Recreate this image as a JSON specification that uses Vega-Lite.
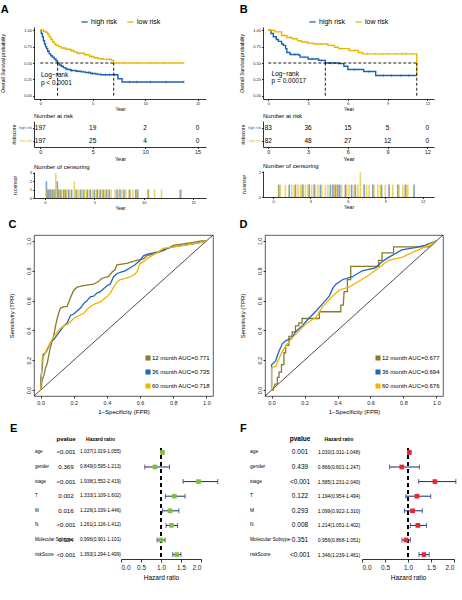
{
"$schema": "https://vega.github.io/schema/vega-lite/v6.json",
"padding": {"left": 0, "top": 4, "right": 2, "bottom": 2},
"config": {
  "font": "Liberation Sans",
  "view": {"stroke": null},
  "axis": {"grid": false, "labelFontSize": 4, "titleFontSize": 5, "titleFontWeight": "normal", "tickSize": 1.5, "labelPadding": 1, "titlePadding": 1, "domainColor": "black", "tickColor": "black", "labelColor": "#222", "titleColor": "black", "domainWidth": 0.8, "tickWidth": 0.8},
  "title": {"fontSize": 11, "fontWeight": "bold", "anchor": "start", "color": "black"},
  "legend": {"layout": {"top": {"anchor": "middle"}}}
},
"datasets": {
  "kmA": [
    {"t":0,"s":1,"group":"high risk"},{"t":0.1,"s":0.95,"group":"high risk"},{"t":0.2,"s":0.9,"group":"high risk"},{"t":0.3,"s":0.84,"group":"high risk"},{"t":0.4,"s":0.79,"group":"high risk"},{"t":0.5,"s":0.75,"group":"high risk"},{"t":0.6,"s":0.72,"group":"high risk"},{"t":0.7,"s":0.68,"group":"high risk"},{"t":0.85,"s":0.64,"group":"high risk"},{"t":1.0,"s":0.61,"group":"high risk"},{"t":1.15,"s":0.59,"group":"high risk"},{"t":1.33,"s":0.56,"group":"high risk"},{"t":1.5,"s":0.53,"group":"high risk"},{"t":1.65,"s":0.5,"group":"high risk"},{"t":1.8,"s":0.47,"group":"high risk"},{"t":2.0,"s":0.45,"group":"high risk"},{"t":2.2,"s":0.43,"group":"high risk"},{"t":2.4,"s":0.41,"group":"high risk"},{"t":2.6,"s":0.4,"group":"high risk"},{"t":2.9,"s":0.385,"group":"high risk"},{"t":3.4,"s":0.375,"group":"high risk"},{"t":3.9,"s":0.365,"group":"high risk"},{"t":4.3,"s":0.355,"group":"high risk"},{"t":4.8,"s":0.34,"group":"high risk"},{"t":5.3,"s":0.33,"group":"high risk"},{"t":5.75,"s":0.32,"group":"high risk"},{"t":7.4,"s":0.26,"group":"high risk"},{"t":7.8,"s":0.21,"group":"high risk"},{"t":13.7,"s":0.21,"group":"high risk"},
    {"t":0,"s":1,"group":"low risk"},{"t":0.3,"s":0.985,"group":"low risk"},{"t":0.5,"s":0.97,"group":"low risk"},{"t":0.7,"s":0.94,"group":"low risk"},{"t":0.85,"s":0.9,"group":"low risk"},{"t":1.0,"s":0.86,"group":"low risk"},{"t":1.17,"s":0.82,"group":"low risk"},{"t":1.35,"s":0.79,"group":"low risk"},{"t":1.5,"s":0.77,"group":"low risk"},{"t":1.75,"s":0.75,"group":"low risk"},{"t":2.0,"s":0.73,"group":"low risk"},{"t":2.4,"s":0.71,"group":"low risk"},{"t":2.9,"s":0.69,"group":"low risk"},{"t":3.2,"s":0.67,"group":"low risk"},{"t":3.5,"s":0.65,"group":"low risk"},{"t":4.2,"s":0.625,"group":"low risk"},{"t":4.7,"s":0.6,"group":"low risk"},{"t":5.1,"s":0.58,"group":"low risk"},{"t":5.5,"s":0.565,"group":"low risk"},{"t":6.0,"s":0.555,"group":"low risk"},{"t":6.8,"s":0.54,"group":"low risk"},{"t":7.0,"s":0.5,"group":"low risk"},{"t":13.7,"s":0.5,"group":"low risk"}
  ],
  "tkA": [
    {"t":2.5,"s":0.41,"group":"high risk"},{"t":3.0,"s":0.385,"group":"high risk"},{"t":3.6,"s":0.375,"group":"high risk"},{"t":4.1,"s":0.365,"group":"high risk"},{"t":4.6,"s":0.355,"group":"high risk"},{"t":5.0,"s":0.34,"group":"high risk"},{"t":5.5,"s":0.33,"group":"high risk"},{"t":6.2,"s":0.32,"group":"high risk"},{"t":6.6,"s":0.32,"group":"high risk"},{"t":7.1,"s":0.32,"group":"high risk"},{"t":8.5,"s":0.21,"group":"high risk"},{"t":9.2,"s":0.21,"group":"high risk"},{"t":10.5,"s":0.21,"group":"high risk"},{"t":12,"s":0.21,"group":"high risk"},{"t":13.7,"s":0.21,"group":"high risk"},
    {"t":1.6,"s":0.77,"group":"low risk"},{"t":2.2,"s":0.73,"group":"low risk"},{"t":2.6,"s":0.71,"group":"low risk"},{"t":3.0,"s":0.69,"group":"low risk"},{"t":3.7,"s":0.65,"group":"low risk"},{"t":4.4,"s":0.625,"group":"low risk"},{"t":4.9,"s":0.6,"group":"low risk"},{"t":5.3,"s":0.58,"group":"low risk"},{"t":5.8,"s":0.565,"group":"low risk"},{"t":6.3,"s":0.555,"group":"low risk"},{"t":6.6,"s":0.555,"group":"low risk"},{"t":7.5,"s":0.5,"group":"low risk"},{"t":8,"s":0.5,"group":"low risk"},{"t":8.6,"s":0.5,"group":"low risk"},{"t":9.3,"s":0.5,"group":"low risk"},{"t":10.5,"s":0.5,"group":"low risk"},{"t":11.1,"s":0.5,"group":"low risk"},{"t":11.8,"s":0.5,"group":"low risk"},{"t":13.7,"s":0.5,"group":"low risk"}
  ],
  "kmB": [
    {"t":0,"s":1,"group":"high risk"},{"t":0.2,"s":0.95,"group":"high risk"},{"t":0.38,"s":0.9,"group":"high risk"},{"t":0.6,"s":0.86,"group":"high risk"},{"t":0.76,"s":0.83,"group":"high risk"},{"t":1.0,"s":0.79,"group":"high risk"},{"t":1.14,"s":0.77,"group":"high risk"},{"t":1.3,"s":0.72,"group":"high risk"},{"t":1.4,"s":0.66,"group":"high risk"},{"t":1.64,"s":0.63,"group":"high risk"},{"t":2.3,"s":0.62,"group":"high risk"},{"t":2.4,"s":0.59,"group":"high risk"},{"t":3.0,"s":0.56,"group":"high risk"},{"t":3.8,"s":0.54,"group":"high risk"},{"t":4.3,"s":0.5,"group":"high risk"},{"t":5.3,"s":0.49,"group":"high risk"},{"t":5.7,"s":0.45,"group":"high risk"},{"t":6.0,"s":0.4,"group":"high risk"},{"t":7.2,"s":0.37,"group":"high risk"},{"t":8.1,"s":0.31,"group":"high risk"},{"t":11.2,"s":0.31,"group":"high risk"},
    {"t":0,"s":1,"group":"low risk"},{"t":0.5,"s":0.975,"group":"low risk"},{"t":1.0,"s":0.92,"group":"low risk"},{"t":1.4,"s":0.89,"group":"low risk"},{"t":1.8,"s":0.87,"group":"low risk"},{"t":2.2,"s":0.84,"group":"low risk"},{"t":2.5,"s":0.82,"group":"low risk"},{"t":3.0,"s":0.8,"group":"low risk"},{"t":3.5,"s":0.79,"group":"low risk"},{"t":4.5,"s":0.77,"group":"low risk"},{"t":5.0,"s":0.74,"group":"low risk"},{"t":5.3,"s":0.72,"group":"low risk"},{"t":6.1,"s":0.69,"group":"low risk"},{"t":6.8,"s":0.66,"group":"low risk"},{"t":7.1,"s":0.64,"group":"low risk"},{"t":11.2,"s":0.32,"group":"low risk"},{"t":11.25,"s":0.32,"group":"low risk"}
  ],
  "tkB": [
    {"t":2.0,"s":0.63,"group":"high risk"},{"t":2.7,"s":0.59,"group":"high risk"},{"t":3.3,"s":0.56,"group":"high risk"},{"t":4.0,"s":0.54,"group":"high risk"},{"t":4.8,"s":0.5,"group":"high risk"},{"t":6.5,"s":0.4,"group":"high risk"},{"t":7.6,"s":0.37,"group":"high risk"},{"t":8.7,"s":0.31,"group":"high risk"},{"t":9.3,"s":0.31,"group":"high risk"},{"t":10.0,"s":0.31,"group":"high risk"},{"t":10.6,"s":0.31,"group":"high risk"},
    {"t":1.2,"s":0.92,"group":"low risk"},{"t":1.6,"s":0.89,"group":"low risk"},{"t":2.0,"s":0.87,"group":"low risk"},{"t":2.8,"s":0.82,"group":"low risk"},{"t":3.3,"s":0.8,"group":"low risk"},{"t":4.0,"s":0.79,"group":"low risk"},{"t":4.8,"s":0.77,"group":"low risk"},{"t":5.5,"s":0.72,"group":"low risk"},{"t":6.5,"s":0.69,"group":"low risk"},{"t":7.5,"s":0.64,"group":"low risk"},{"t":8.1,"s":0.64,"group":"low risk"},{"t":8.6,"s":0.64,"group":"low risk"},{"t":9.0,"s":0.64,"group":"low risk"},{"t":9.6,"s":0.64,"group":"low risk"},{"t":10.1,"s":0.64,"group":"low risk"},{"t":10.4,"s":0.64,"group":"low risk"},{"t":10.8,"s":0.64,"group":"low risk"}
  ],
  "riskA": [
    {"t":0,"n":197,"group":"high risk"},{"t":5,"n":19,"group":"high risk"},{"t":10,"n":2,"group":"high risk"},{"t":15,"n":0,"group":"high risk"},
    {"t":0,"n":197,"group":"low risk"},{"t":5,"n":25,"group":"low risk"},{"t":10,"n":4,"group":"low risk"},{"t":15,"n":0,"group":"low risk"}
  ],
  "riskB": [
    {"t":0,"n":83,"group":"high risk"},{"t":3,"n":36,"group":"high risk"},{"t":6,"n":15,"group":"high risk"},{"t":9,"n":5,"group":"high risk"},{"t":12,"n":0,"group":"high risk"},
    {"t":0,"n":82,"group":"low risk"},{"t":3,"n":48,"group":"low risk"},{"t":6,"n":27,"group":"low risk"},{"t":9,"n":12,"group":"low risk"},{"t":12,"n":0,"group":"low risk"}
  ],
  "cenA": [
    {"t":0.15,"n":2,"group":"high risk"},{"t":0.3,"n":1,"group":"high risk"},{"t":0.45,"n":1,"group":"high risk"},{"t":0.6,"n":1,"group":"high risk"},{"t":0.8,"n":1,"group":"high risk"},{"t":1.0,"n":1,"group":"high risk"},{"t":1.26,"n":2,"group":"high risk"},{"t":1.4,"n":1,"group":"high risk"},{"t":1.6,"n":1,"group":"high risk"},{"t":1.9,"n":1,"group":"high risk"},{"t":2.1,"n":1,"group":"high risk"},{"t":2.4,"n":1,"group":"high risk"},{"t":2.7,"n":1,"group":"high risk"},{"t":3.2,"n":1,"group":"high risk"},{"t":3.6,"n":1,"group":"high risk"},{"t":3.9,"n":1,"group":"high risk"},{"t":4.3,"n":1,"group":"high risk"},{"t":4.6,"n":1,"group":"high risk"},{"t":5.0,"n":1,"group":"high risk"},{"t":5.3,"n":1,"group":"high risk"},{"t":5.6,"n":1,"group":"high risk"},{"t":5.9,"n":1,"group":"high risk"},{"t":6.2,"n":1,"group":"high risk"},{"t":6.5,"n":1,"group":"high risk"},{"t":7.3,"n":1,"group":"high risk"},{"t":7.6,"n":1,"group":"high risk"},{"t":8.0,"n":1,"group":"high risk"},{"t":8.6,"n":1,"group":"high risk"},{"t":9.2,"n":1,"group":"high risk"},{"t":9.4,"n":1,"group":"high risk"},{"t":10.45,"n":1,"group":"high risk"},{"t":13.7,"n":1,"group":"high risk"},
    {"t":0.2,"n":1,"group":"low risk"},{"t":0.5,"n":1,"group":"low risk"},{"t":0.7,"n":1,"group":"low risk"},{"t":0.9,"n":1,"group":"low risk"},{"t":1.1,"n":3,"group":"low risk"},{"t":1.3,"n":1,"group":"low risk"},{"t":1.5,"n":1,"group":"low risk"},{"t":1.7,"n":1,"group":"low risk"},{"t":2.0,"n":1,"group":"low risk"},{"t":2.2,"n":1,"group":"low risk"},{"t":2.5,"n":1,"group":"low risk"},{"t":2.97,"n":2,"group":"low risk"},{"t":3.1,"n":1,"group":"low risk"},{"t":3.4,"n":1,"group":"low risk"},{"t":3.7,"n":1,"group":"low risk"},{"t":4.0,"n":1,"group":"low risk"},{"t":4.2,"n":1,"group":"low risk"},{"t":4.5,"n":1,"group":"low risk"},{"t":4.8,"n":1,"group":"low risk"},{"t":5.2,"n":1,"group":"low risk"},{"t":5.5,"n":1,"group":"low risk"},{"t":5.8,"n":1,"group":"low risk"},{"t":6.0,"n":1,"group":"low risk"},{"t":6.3,"n":1,"group":"low risk"},{"t":6.7,"n":1,"group":"low risk"},{"t":7.1,"n":1,"group":"low risk"},{"t":7.5,"n":1,"group":"low risk"},{"t":7.8,"n":1,"group":"low risk"},{"t":8.2,"n":1,"group":"low risk"},{"t":8.5,"n":1,"group":"low risk"},{"t":8.9,"n":1,"group":"low risk"},{"t":9.3,"n":1,"group":"low risk"},{"t":10.5,"n":1,"group":"low risk"},{"t":11.1,"n":1,"group":"low risk"},{"t":11.8,"n":1,"group":"low risk"},{"t":13.8,"n":1,"group":"low risk"}
  ],
  "cenB": [
    {"t":0.45,"n":1,"group":"high risk"},{"t":1.3,"n":1,"group":"high risk"},{"t":1.8,"n":1,"group":"high risk"},{"t":2.4,"n":1,"group":"high risk"},{"t":2.9,"n":1,"group":"high risk"},{"t":3.3,"n":1,"group":"high risk"},{"t":3.8,"n":1,"group":"high risk"},{"t":4.6,"n":1,"group":"high risk"},{"t":4.8,"n":1,"group":"high risk"},{"t":5.0,"n":1,"group":"high risk"},{"t":5.2,"n":1,"group":"high risk"},{"t":5.35,"n":1,"group":"high risk"},{"t":5.8,"n":1,"group":"high risk"},{"t":6.3,"n":1,"group":"high risk"},{"t":6.6,"n":1,"group":"high risk"},{"t":7.3,"n":1,"group":"high risk"},{"t":8.0,"n":1,"group":"high risk"},{"t":8.7,"n":1,"group":"high risk"},{"t":9.3,"n":1,"group":"high risk"},{"t":10.0,"n":1,"group":"high risk"},{"t":10.6,"n":1,"group":"high risk"},{"t":11.3,"n":1,"group":"high risk"},
    {"t":0.5,"n":1,"group":"low risk"},{"t":0.6,"n":1,"group":"low risk"},{"t":1.0,"n":1,"group":"low risk"},{"t":1.5,"n":1,"group":"low risk"},{"t":1.7,"n":1,"group":"low risk"},{"t":2.0,"n":1,"group":"low risk"},{"t":2.2,"n":1,"group":"low risk"},{"t":2.3,"n":1,"group":"low risk"},{"t":2.6,"n":1,"group":"low risk"},{"t":2.8,"n":1,"group":"low risk"},{"t":3.1,"n":1,"group":"low risk"},{"t":3.4,"n":1,"group":"low risk"},{"t":3.6,"n":1,"group":"low risk"},{"t":3.9,"n":1,"group":"low risk"},{"t":4.2,"n":1,"group":"low risk"},{"t":4.4,"n":1,"group":"low risk"},{"t":4.9,"n":1,"group":"low risk"},{"t":5.1,"n":1,"group":"low risk"},{"t":5.5,"n":1,"group":"low risk"},{"t":5.9,"n":1,"group":"low risk"},{"t":6.1,"n":1,"group":"low risk"},{"t":6.5,"n":1,"group":"low risk"},{"t":6.8,"n":1,"group":"low risk"},{"t":7.0,"n":2,"group":"low risk"},{"t":7.5,"n":1,"group":"low risk"},{"t":7.7,"n":1,"group":"low risk"},{"t":8.1,"n":1,"group":"low risk"},{"t":8.4,"n":1,"group":"low risk"},{"t":8.6,"n":1,"group":"low risk"},{"t":9.0,"n":1,"group":"low risk"},{"t":9.6,"n":1,"group":"low risk"},{"t":10.1,"n":1,"group":"low risk"},{"t":10.4,"n":1,"group":"low risk"},{"t":10.7,"n":1,"group":"low risk"},{"t":10.8,"n":1,"group":"low risk"}
  ],
  "rocC": [
    {"fpr":0,"tpr":0,"curve":"12 month AUC=0.771"},{"fpr":0.005,"tpr":0.03,"curve":"12 month AUC=0.771"},{"fpr":0.01,"tpr":0.07,"curve":"12 month AUC=0.771"},{"fpr":0.02,"tpr":0.1,"curve":"12 month AUC=0.771"},{"fpr":0.03,"tpr":0.15,"curve":"12 month AUC=0.771"},{"fpr":0.04,"tpr":0.18,"curve":"12 month AUC=0.771"},{"fpr":0.05,"tpr":0.24,"curve":"12 month AUC=0.771"},{"fpr":0.06,"tpr":0.29,"curve":"12 month AUC=0.771"},{"fpr":0.07,"tpr":0.33,"curve":"12 month AUC=0.771"},{"fpr":0.08,"tpr":0.37,"curve":"12 month AUC=0.771"},{"fpr":0.09,"tpr":0.43,"curve":"12 month AUC=0.771"},{"fpr":0.1,"tpr":0.48,"curve":"12 month AUC=0.771"},{"fpr":0.11,"tpr":0.52,"curve":"12 month AUC=0.771"},{"fpr":0.12,"tpr":0.55,"curve":"12 month AUC=0.771"},{"fpr":0.14,"tpr":0.56,"curve":"12 month AUC=0.771"},{"fpr":0.16,"tpr":0.56,"curve":"12 month AUC=0.771"},{"fpr":0.18,"tpr":0.62,"curve":"12 month AUC=0.771"},{"fpr":0.2,"tpr":0.67,"curve":"12 month AUC=0.771"},{"fpr":0.22,"tpr":0.69,"curve":"12 month AUC=0.771"},{"fpr":0.26,"tpr":0.7,"curve":"12 month AUC=0.771"},{"fpr":0.32,"tpr":0.71,"curve":"12 month AUC=0.771"},{"fpr":0.35,"tpr":0.73,"curve":"12 month AUC=0.771"},{"fpr":0.37,"tpr":0.75,"curve":"12 month AUC=0.771"},{"fpr":0.41,"tpr":0.76,"curve":"12 month AUC=0.771"},{"fpr":0.43,"tpr":0.79,"curve":"12 month AUC=0.771"},{"fpr":0.45,"tpr":0.81,"curve":"12 month AUC=0.771"},{"fpr":0.46,"tpr":0.84,"curve":"12 month AUC=0.771"},{"fpr":0.52,"tpr":0.85,"curve":"12 month AUC=0.771"},{"fpr":0.55,"tpr":0.86,"curve":"12 month AUC=0.771"},{"fpr":0.58,"tpr":0.87,"curve":"12 month AUC=0.771"},{"fpr":0.62,"tpr":0.88,"curve":"12 month AUC=0.771"},{"fpr":0.64,"tpr":0.9,"curve":"12 month AUC=0.771"},{"fpr":0.7,"tpr":0.92,"curve":"12 month AUC=0.771"},{"fpr":0.75,"tpr":0.94,"curve":"12 month AUC=0.771"},{"fpr":0.8,"tpr":0.97,"curve":"12 month AUC=0.771"},{"fpr":0.86,"tpr":0.98,"curve":"12 month AUC=0.771"},{"fpr":0.92,"tpr":0.99,"curve":"12 month AUC=0.771"},{"fpr":0.97,"tpr":1,"curve":"12 month AUC=0.771"},{"fpr":1,"tpr":1,"curve":"12 month AUC=0.771"},
    {"fpr":0,"tpr":0,"curve":"36 month AUC=0.735"},{"fpr":0,"tpr":0.07,"curve":"36 month AUC=0.735"},{"fpr":0.01,"tpr":0.15,"curve":"36 month AUC=0.735"},{"fpr":0.015,"tpr":0.24,"curve":"36 month AUC=0.735"},{"fpr":0.03,"tpr":0.25,"curve":"36 month AUC=0.735"},{"fpr":0.04,"tpr":0.27,"curve":"36 month AUC=0.735"},{"fpr":0.06,"tpr":0.32,"curve":"36 month AUC=0.735"},{"fpr":0.08,"tpr":0.34,"curve":"36 month AUC=0.735"},{"fpr":0.1,"tpr":0.37,"curve":"36 month AUC=0.735"},{"fpr":0.12,"tpr":0.4,"curve":"36 month AUC=0.735"},{"fpr":0.14,"tpr":0.43,"curve":"36 month AUC=0.735"},{"fpr":0.16,"tpr":0.45,"curve":"36 month AUC=0.735"},{"fpr":0.18,"tpr":0.5,"curve":"36 month AUC=0.735"},{"fpr":0.2,"tpr":0.51,"curve":"36 month AUC=0.735"},{"fpr":0.22,"tpr":0.53,"curve":"36 month AUC=0.735"},{"fpr":0.24,"tpr":0.55,"curve":"36 month AUC=0.735"},{"fpr":0.26,"tpr":0.58,"curve":"36 month AUC=0.735"},{"fpr":0.28,"tpr":0.6,"curve":"36 month AUC=0.735"},{"fpr":0.3,"tpr":0.625,"curve":"36 month AUC=0.735"},{"fpr":0.32,"tpr":0.63,"curve":"36 month AUC=0.735"},{"fpr":0.34,"tpr":0.65,"curve":"36 month AUC=0.735"},{"fpr":0.36,"tpr":0.66,"curve":"36 month AUC=0.735"},{"fpr":0.38,"tpr":0.68,"curve":"36 month AUC=0.735"},{"fpr":0.4,"tpr":0.7,"curve":"36 month AUC=0.735"},{"fpr":0.42,"tpr":0.71,"curve":"36 month AUC=0.735"},{"fpr":0.44,"tpr":0.76,"curve":"36 month AUC=0.735"},{"fpr":0.46,"tpr":0.78,"curve":"36 month AUC=0.735"},{"fpr":0.48,"tpr":0.79,"curve":"36 month AUC=0.735"},{"fpr":0.51,"tpr":0.8,"curve":"36 month AUC=0.735"},{"fpr":0.54,"tpr":0.82,"curve":"36 month AUC=0.735"},{"fpr":0.57,"tpr":0.84,"curve":"36 month AUC=0.735"},{"fpr":0.6,"tpr":0.87,"curve":"36 month AUC=0.735"},{"fpr":0.62,"tpr":0.9,"curve":"36 month AUC=0.735"},{"fpr":0.64,"tpr":0.91,"curve":"36 month AUC=0.735"},{"fpr":0.68,"tpr":0.92,"curve":"36 month AUC=0.735"},{"fpr":0.72,"tpr":0.93,"curve":"36 month AUC=0.735"},{"fpr":0.76,"tpr":0.95,"curve":"36 month AUC=0.735"},{"fpr":0.8,"tpr":0.96,"curve":"36 month AUC=0.735"},{"fpr":0.86,"tpr":0.97,"curve":"36 month AUC=0.735"},{"fpr":0.92,"tpr":0.98,"curve":"36 month AUC=0.735"},{"fpr":0.97,"tpr":0.99,"curve":"36 month AUC=0.735"},{"fpr":1,"tpr":1,"curve":"36 month AUC=0.735"},
    {"fpr":0,"tpr":0,"curve":"60 month AUC=0.718"},{"fpr":0.005,"tpr":0.1,"curve":"60 month AUC=0.718"},{"fpr":0.01,"tpr":0.22,"curve":"60 month AUC=0.718"},{"fpr":0.02,"tpr":0.23,"curve":"60 month AUC=0.718"},{"fpr":0.04,"tpr":0.28,"curve":"60 month AUC=0.718"},{"fpr":0.06,"tpr":0.32,"curve":"60 month AUC=0.718"},{"fpr":0.08,"tpr":0.36,"curve":"60 month AUC=0.718"},{"fpr":0.1,"tpr":0.39,"curve":"60 month AUC=0.718"},{"fpr":0.12,"tpr":0.415,"curve":"60 month AUC=0.718"},{"fpr":0.14,"tpr":0.43,"curve":"60 month AUC=0.718"},{"fpr":0.16,"tpr":0.44,"curve":"60 month AUC=0.718"},{"fpr":0.18,"tpr":0.46,"curve":"60 month AUC=0.718"},{"fpr":0.2,"tpr":0.48,"curve":"60 month AUC=0.718"},{"fpr":0.23,"tpr":0.5,"curve":"60 month AUC=0.718"},{"fpr":0.26,"tpr":0.515,"curve":"60 month AUC=0.718"},{"fpr":0.28,"tpr":0.54,"curve":"60 month AUC=0.718"},{"fpr":0.3,"tpr":0.56,"curve":"60 month AUC=0.718"},{"fpr":0.33,"tpr":0.58,"curve":"60 month AUC=0.718"},{"fpr":0.36,"tpr":0.59,"curve":"60 month AUC=0.718"},{"fpr":0.38,"tpr":0.61,"curve":"60 month AUC=0.718"},{"fpr":0.4,"tpr":0.625,"curve":"60 month AUC=0.718"},{"fpr":0.42,"tpr":0.65,"curve":"60 month AUC=0.718"},{"fpr":0.44,"tpr":0.69,"curve":"60 month AUC=0.718"},{"fpr":0.46,"tpr":0.725,"curve":"60 month AUC=0.718"},{"fpr":0.48,"tpr":0.74,"curve":"60 month AUC=0.718"},{"fpr":0.5,"tpr":0.745,"curve":"60 month AUC=0.718"},{"fpr":0.53,"tpr":0.755,"curve":"60 month AUC=0.718"},{"fpr":0.56,"tpr":0.77,"curve":"60 month AUC=0.718"},{"fpr":0.58,"tpr":0.79,"curve":"60 month AUC=0.718"},{"fpr":0.6,"tpr":0.85,"curve":"60 month AUC=0.718"},{"fpr":0.62,"tpr":0.86,"curve":"60 month AUC=0.718"},{"fpr":0.64,"tpr":0.88,"curve":"60 month AUC=0.718"},{"fpr":0.67,"tpr":0.9,"curve":"60 month AUC=0.718"},{"fpr":0.7,"tpr":0.92,"curve":"60 month AUC=0.718"},{"fpr":0.74,"tpr":0.95,"curve":"60 month AUC=0.718"},{"fpr":0.8,"tpr":0.96,"curve":"60 month AUC=0.718"},{"fpr":0.86,"tpr":0.97,"curve":"60 month AUC=0.718"},{"fpr":0.92,"tpr":0.98,"curve":"60 month AUC=0.718"},{"fpr":0.97,"tpr":0.99,"curve":"60 month AUC=0.718"},{"fpr":1,"tpr":1,"curve":"60 month AUC=0.718"}
  ],
  "rocD": [
    {"fpr":0,"tpr":0,"curve":"12 month AUC=0.677"},{"fpr":0.01,"tpr":0,"curve":"12 month AUC=0.677"},{"fpr":0.02,"tpr":0.04,"curve":"12 month AUC=0.677"},{"fpr":0.035,"tpr":0.04,"curve":"12 month AUC=0.677"},{"fpr":0.035,"tpr":0.085,"curve":"12 month AUC=0.677"},{"fpr":0.045,"tpr":0.085,"curve":"12 month AUC=0.677"},{"fpr":0.045,"tpr":0.12,"curve":"12 month AUC=0.677"},{"fpr":0.06,"tpr":0.12,"curve":"12 month AUC=0.677"},{"fpr":0.06,"tpr":0.17,"curve":"12 month AUC=0.677"},{"fpr":0.075,"tpr":0.17,"curve":"12 month AUC=0.677"},{"fpr":0.075,"tpr":0.25,"curve":"12 month AUC=0.677"},{"fpr":0.085,"tpr":0.25,"curve":"12 month AUC=0.677"},{"fpr":0.085,"tpr":0.3,"curve":"12 month AUC=0.677"},{"fpr":0.105,"tpr":0.3,"curve":"12 month AUC=0.677"},{"fpr":0.105,"tpr":0.36,"curve":"12 month AUC=0.677"},{"fpr":0.125,"tpr":0.36,"curve":"12 month AUC=0.677"},{"fpr":0.125,"tpr":0.39,"curve":"12 month AUC=0.677"},{"fpr":0.145,"tpr":0.39,"curve":"12 month AUC=0.677"},{"fpr":0.145,"tpr":0.43,"curve":"12 month AUC=0.677"},{"fpr":0.165,"tpr":0.43,"curve":"12 month AUC=0.677"},{"fpr":0.165,"tpr":0.45,"curve":"12 month AUC=0.677"},{"fpr":0.185,"tpr":0.45,"curve":"12 month AUC=0.677"},{"fpr":0.185,"tpr":0.48,"curve":"12 month AUC=0.677"},{"fpr":0.29,"tpr":0.48,"curve":"12 month AUC=0.677"},{"fpr":0.29,"tpr":0.525,"curve":"12 month AUC=0.677"},{"fpr":0.42,"tpr":0.525,"curve":"12 month AUC=0.677"},{"fpr":0.42,"tpr":0.57,"curve":"12 month AUC=0.677"},{"fpr":0.435,"tpr":0.57,"curve":"12 month AUC=0.677"},{"fpr":0.44,"tpr":0.66,"curve":"12 month AUC=0.677"},{"fpr":0.46,"tpr":0.66,"curve":"12 month AUC=0.677"},{"fpr":0.46,"tpr":0.74,"curve":"12 month AUC=0.677"},{"fpr":0.48,"tpr":0.74,"curve":"12 month AUC=0.677"},{"fpr":0.48,"tpr":0.83,"curve":"12 month AUC=0.677"},{"fpr":0.65,"tpr":0.83,"curve":"12 month AUC=0.677"},{"fpr":0.65,"tpr":0.87,"curve":"12 month AUC=0.677"},{"fpr":0.67,"tpr":0.87,"curve":"12 month AUC=0.677"},{"fpr":0.67,"tpr":0.92,"curve":"12 month AUC=0.677"},{"fpr":0.74,"tpr":0.92,"curve":"12 month AUC=0.677"},{"fpr":0.74,"tpr":0.96,"curve":"12 month AUC=0.677"},{"fpr":0.96,"tpr":0.96,"curve":"12 month AUC=0.677"},{"fpr":1,"tpr":1,"curve":"12 month AUC=0.677"},
    {"fpr":0,"tpr":0,"curve":"36 month AUC=0.694"},{"fpr":0,"tpr":0.17,"curve":"36 month AUC=0.694"},{"fpr":0.025,"tpr":0.195,"curve":"36 month AUC=0.694"},{"fpr":0.035,"tpr":0.23,"curve":"36 month AUC=0.694"},{"fpr":0.045,"tpr":0.26,"curve":"36 month AUC=0.694"},{"fpr":0.065,"tpr":0.31,"curve":"36 month AUC=0.694"},{"fpr":0.085,"tpr":0.33,"curve":"36 month AUC=0.694"},{"fpr":0.125,"tpr":0.35,"curve":"36 month AUC=0.694"},{"fpr":0.145,"tpr":0.39,"curve":"36 month AUC=0.694"},{"fpr":0.185,"tpr":0.43,"curve":"36 month AUC=0.694"},{"fpr":0.225,"tpr":0.48,"curve":"36 month AUC=0.694"},{"fpr":0.27,"tpr":0.53,"curve":"36 month AUC=0.694"},{"fpr":0.31,"tpr":0.58,"curve":"36 month AUC=0.694"},{"fpr":0.35,"tpr":0.63,"curve":"36 month AUC=0.694"},{"fpr":0.37,"tpr":0.68,"curve":"36 month AUC=0.694"},{"fpr":0.39,"tpr":0.71,"curve":"36 month AUC=0.694"},{"fpr":0.43,"tpr":0.74,"curve":"36 month AUC=0.694"},{"fpr":0.49,"tpr":0.76,"curve":"36 month AUC=0.694"},{"fpr":0.55,"tpr":0.8,"curve":"36 month AUC=0.694"},{"fpr":0.63,"tpr":0.82,"curve":"36 month AUC=0.694"},{"fpr":0.67,"tpr":0.86,"curve":"36 month AUC=0.694"},{"fpr":0.71,"tpr":0.89,"curve":"36 month AUC=0.694"},{"fpr":0.79,"tpr":0.94,"curve":"36 month AUC=0.694"},{"fpr":0.87,"tpr":0.955,"curve":"36 month AUC=0.694"},{"fpr":0.93,"tpr":0.97,"curve":"36 month AUC=0.694"},{"fpr":1,"tpr":1,"curve":"36 month AUC=0.694"},
    {"fpr":0,"tpr":0,"curve":"60 month AUC=0.676"},{"fpr":0,"tpr":0.15,"curve":"60 month AUC=0.676"},{"fpr":0.025,"tpr":0.16,"curve":"60 month AUC=0.676"},{"fpr":0.045,"tpr":0.21,"curve":"60 month AUC=0.676"},{"fpr":0.065,"tpr":0.26,"curve":"60 month AUC=0.676"},{"fpr":0.085,"tpr":0.295,"curve":"60 month AUC=0.676"},{"fpr":0.125,"tpr":0.35,"curve":"60 month AUC=0.676"},{"fpr":0.165,"tpr":0.395,"curve":"60 month AUC=0.676"},{"fpr":0.205,"tpr":0.44,"curve":"60 month AUC=0.676"},{"fpr":0.27,"tpr":0.49,"curve":"60 month AUC=0.676"},{"fpr":0.31,"tpr":0.56,"curve":"60 month AUC=0.676"},{"fpr":0.37,"tpr":0.63,"curve":"60 month AUC=0.676"},{"fpr":0.41,"tpr":0.67,"curve":"60 month AUC=0.676"},{"fpr":0.47,"tpr":0.69,"curve":"60 month AUC=0.676"},{"fpr":0.53,"tpr":0.73,"curve":"60 month AUC=0.676"},{"fpr":0.59,"tpr":0.77,"curve":"60 month AUC=0.676"},{"fpr":0.65,"tpr":0.82,"curve":"60 month AUC=0.676"},{"fpr":0.71,"tpr":0.87,"curve":"60 month AUC=0.676"},{"fpr":0.79,"tpr":0.89,"curve":"60 month AUC=0.676"},{"fpr":0.87,"tpr":0.93,"curve":"60 month AUC=0.676"},{"fpr":0.93,"tpr":0.96,"curve":"60 month AUC=0.676"},{"fpr":1,"tpr":1,"curve":"60 month AUC=0.676"}
  ],
  "diag": [{"fpr":-0.04,"tpr":-0.04},{"fpr":1.04,"tpr":1.04}],
  "forE": [
    {"var":"age","p":"<0.001","hr":1.037,"lo":1.019,"hi":1.055,"label":"1.037(1.019-1.055)"},
    {"var":"gender","p":"0.369","hr":0.849,"lo":0.595,"hi":1.213,"label":"0.849(0.595-1.213)"},
    {"var":"stage","p":"<0.001","hr":1.938,"lo":1.552,"hi":2.419,"label":"1.938(1.552-2.419)"},
    {"var":"T","p":"0.002","hr":1.333,"lo":1.109,"hi":1.602,"label":"1.333(1.109-1.602)"},
    {"var":"M","p":"0.016","hr":1.226,"lo":1.039,"hi":1.446,"label":"1.226(1.039-1.446)"},
    {"var":"N","p":"<0.001","hr":1.261,"lo":1.126,"hi":1.412,"label":"1.261(1.126-1.412)"},
    {"var":"Molecular Subtype","p":"0.934","hr":0.996,"lo":0.901,"hi":1.101,"label":"0.996(0.901-1.101)"},
    {"var":"riskScore","p":"<0.001","hr":1.393,"lo":1.294,"hi":1.499,"label":"1.393(1.294-1.499)"}
  ],
  "forF": [
    {"var":"age","p":"0.001","hr":1.03,"lo":1.011,"hi":1.048,"label":"1.030(1.011-1.048)"},
    {"var":"gender","p":"0.439","hr":0.866,"lo":0.601,"hi":1.247,"label":"0.866(0.601-1.247)"},
    {"var":"stage","p":"<0.001","hr":1.585,"lo":1.231,"hi":2.04,"label":"1.585(1.231-2.040)"},
    {"var":"T","p":"0.122","hr":1.194,"lo":0.954,"hi":1.494,"label":"1.194(0.954-1.494)"},
    {"var":"M","p":"0.293","hr":1.099,"lo":0.922,"hi":1.31,"label":"1.099(0.922-1.310)"},
    {"var":"N","p":"0.008","hr":1.214,"lo":1.051,"hi":1.402,"label":"1.214(1.051-1.402)"},
    {"var":"Molecular Subtype","p":"0.351","hr":0.956,"lo":0.868,"hi":1.051,"label":"0.956(0.868-1.051)"},
    {"var":"riskScore","p":"<0.001","hr":1.346,"lo":1.239,"hi":1.461,"label":"1.346(1.239-1.461)"}
  ]
},
"resolve": {"scale": {"x": "independent", "y": "independent", "color": "independent"}, "legend": {"color": "independent"}},
"spacing": 7,
"vconcat": [
 {
  "spacing": 33,
  "resolve": {"scale": {"x": "independent", "y": "independent", "color": "independent"}, "legend": {"color": "independent"}},
  "hconcat": [
   {
    "spacing": 1,
    "resolve": {"scale": {"x": "independent", "y": "independent", "color": "independent"}, "legend": {"color": "independent"}},
    "vconcat": [
     {
      "title": {"text": "A", "frame": "bounds", "offset": 2},
      "width": 172, "height": 72,
      "layer": [
       {"data": {"name": "kmA"}, "mark": {"type": "line", "interpolate": "step-after", "strokeWidth": 1.4},
        "encoding": {
         "x": {"field": "t", "type": "quantitative", "scale": {"domain": [-0.6, 15.8], "nice": false, "zero": false}, "axis": {"values": [0,5,10,15], "tickCount": 20, "format": "d", "title": "Year", "labelOverlap": false}},
         "y": {"field": "s", "type": "quantitative", "scale": {"domain": [-0.05, 1.05], "nice": false}, "axis": {"values": [0,0.25,0.5,0.75,1], "tickCount": 20, "format": ".2f", "title": "Overall Survival probability", "titlePadding": 18, "labelOverlap": false}},
         "color": {"field": "group", "type": "nominal", "scale": {"domain": ["high risk","low risk"], "range": ["#1f60b0","#e7b800"]}, "legend": {"orient": "top", "title": null, "labelFontSize": 7, "symbolType": "stroke", "symbolStrokeWidth": 1.8, "symbolSize": 40, "offset": 1, "padding": 0, "columnPadding": 5, "labelOffset": 2}}
        }},
       {"data": {"name": "tkA"}, "mark": {"type": "tick", "orient": "vertical", "size": 3, "thickness": 0.7},
        "encoding": {"x": {"field": "t", "type": "quantitative"}, "y": {"field": "s", "type": "quantitative"}, "color": {"field": "group", "type": "nominal"}}},
       {"data": {"values": [{"t": 1.65}, {"t": 7.0}]}, "mark": {"type": "rule", "strokeDash": [3,2], "strokeWidth": 0.9, "color": "black"},
        "encoding": {"x": {"field": "t", "type": "quantitative"}, "y": {"datum": 0}, "y2": {"datum": 0.5}}},
       {"data": {"values": [{"t0": 0, "t1": 7.0, "s": 0.5}]}, "mark": {"type": "rule", "strokeDash": [3,2], "strokeWidth": 0.9, "color": "black"},
        "encoding": {"x": {"field": "t0", "type": "quantitative"}, "x2": {"field": "t1"}, "y": {"field": "s", "type": "quantitative"}}},
       {"data": {"values": [{"t": 0.06, "s": 0.31, "txt": "Log\u2212rank"}, {"t": 0.06, "s": 0.2, "txt": "p < 0.0001"}]}, "mark": {"type": "text", "align": "left", "fontSize": 6.5},
        "encoding": {"x": {"field": "t", "type": "quantitative"}, "y": {"field": "s", "type": "quantitative"}, "text": {"field": "txt"}}}
      ]
     },
     {
      "title": {"text": "Number at risk", "fontSize": 6, "fontWeight": "normal", "frame": "group", "offset": 2},
      "width": 172, "height": 26,
      "data": {"name": "riskA"},
      "mark": {"type": "text", "fontSize": 6.5},
      "encoding": {
       "x": {"field": "t", "type": "quantitative", "scale": {"domain": [-0.6, 15.8], "nice": false, "zero": false}, "axis": {"values": [0,5,10,15], "tickCount": 20, "format": "d", "title": "Year", "labelFontSize": 5.5, "titleFontSize": 5.5, "labelOverlap": false}},
       "y": {"field": "group", "type": "nominal", "sort": ["high risk","low risk"], "scale": {"type": "point", "padding": 0.5}, "axis": {"title": "riskscore", "labelFontSize": 3.5, "titlePadding": 2, "labelOverlap": false, "labelColor": {"condition": {"test": "datum.value == 'high risk'", "value": "#1f60b0"}, "value": "#e7b800"}}},
       "text": {"field": "n", "type": "quantitative"}
      }
     },
     {
      "title": {"text": "Number of censoring", "fontSize": 6, "fontWeight": "normal", "frame": "group", "offset": 1},
      "width": 172, "height": 26,
      "data": {"name": "cenA"},
      "mark": {"type": "bar", "size": 1.6, "opacity": 0.6},
      "encoding": {
       "x": {"field": "t", "type": "quantitative", "scale": {"domain": [-0.6, 15.8], "nice": false, "zero": false}, "axis": {"values": [0,5,10,15], "tickCount": 20, "format": "d", "title": "Year", "labelOverlap": false}},
       "y": {"field": "n", "type": "quantitative", "stack": null, "scale": {"domain": [0, 3.1], "nice": false}, "axis": {"values": [0,1,2,3], "tickCount": 20, "format": "d", "title": "n.censor", "titlePadding": 12, "labelOverlap": false}},
       "color": {"field": "group", "type": "nominal", "scale": {"domain": ["high risk","low risk"], "range": ["#1f60b0","#e7b800"]}, "legend": null}
      }
     }
    ]
   },
   {
    "spacing": 1,
    "resolve": {"scale": {"x": "independent", "y": "independent", "color": "independent"}, "legend": {"color": "independent"}},
    "vconcat": [
     {
      "title": {"text": "B", "frame": "bounds", "offset": 2},
      "width": 171, "height": 72,
      "layer": [
       {"data": {"name": "kmB"}, "mark": {"type": "line", "interpolate": "step-after", "strokeWidth": 1.4},
        "encoding": {
         "x": {"field": "t", "type": "quantitative", "scale": {"domain": [-0.4, 12.5], "nice": false, "zero": false}, "axis": {"values": [0,3,6,9,12], "tickCount": 20, "format": "d", "title": "Year", "labelOverlap": false}},
         "y": {"field": "s", "type": "quantitative", "scale": {"domain": [-0.05, 1.05], "nice": false}, "axis": {"values": [0,0.25,0.5,0.75,1], "tickCount": 20, "format": ".2f", "title": "Overall Survival probability", "titlePadding": 8, "labelOverlap": false}},
         "color": {"field": "group", "type": "nominal", "scale": {"domain": ["high risk","low risk"], "range": ["#1f60b0","#e7b800"]}, "legend": {"orient": "top", "title": null, "labelFontSize": 7, "symbolType": "stroke", "symbolStrokeWidth": 1.8, "symbolSize": 40, "offset": 1, "padding": 0, "columnPadding": 5, "labelOffset": 2}}
        }},
       {"data": {"name": "tkB"}, "mark": {"type": "tick", "orient": "vertical", "size": 3, "thickness": 0.7},
        "encoding": {"x": {"field": "t", "type": "quantitative"}, "y": {"field": "s", "type": "quantitative"}, "color": {"field": "group", "type": "nominal"}}},
       {"data": {"values": [{"t": 4.3}, {"t": 11.2}]}, "mark": {"type": "rule", "strokeDash": [3,2], "strokeWidth": 0.9, "color": "black"},
        "encoding": {"x": {"field": "t", "type": "quantitative"}, "y": {"datum": 0}, "y2": {"datum": 0.5}}},
       {"data": {"values": [{"t0": 0, "t1": 11.2, "s": 0.5}]}, "mark": {"type": "rule", "strokeDash": [3,2], "strokeWidth": 0.9, "color": "black"},
        "encoding": {"x": {"field": "t0", "type": "quantitative"}, "x2": {"field": "t1"}, "y": {"field": "s", "type": "quantitative"}}},
       {"data": {"values": [{"t": 0.25, "s": 0.33, "txt": "Log\u2212rank"}, {"t": 0.25, "s": 0.22, "txt": "p = 0.00017"}]}, "mark": {"type": "text", "align": "left", "fontSize": 6.5},
        "encoding": {"x": {"field": "t", "type": "quantitative"}, "y": {"field": "s", "type": "quantitative"}, "text": {"field": "txt"}}}
      ]
     },
     {
      "title": {"text": "Number at risk", "fontSize": 6, "fontWeight": "normal", "frame": "group", "offset": 2},
      "width": 171, "height": 26,
      "data": {"name": "riskB"},
      "mark": {"type": "text", "fontSize": 6.5},
      "encoding": {
       "x": {"field": "t", "type": "quantitative", "scale": {"domain": [-0.4, 12.5], "nice": false, "zero": false}, "axis": {"values": [0,3,6,9,12], "tickCount": 20, "format": "d", "title": "Year", "labelFontSize": 5.5, "titleFontSize": 5.5, "labelOverlap": false}},
       "y": {"field": "group", "type": "nominal", "sort": ["high risk","low risk"], "scale": {"type": "point", "padding": 0.5}, "axis": {"title": "riskscore", "labelFontSize": 3.5, "titlePadding": 2, "labelOverlap": false, "labelColor": {"condition": {"test": "datum.value == 'high risk'", "value": "#1f60b0"}, "value": "#e7b800"}}},
       "text": {"field": "n", "type": "quantitative"}
      }
     },
     {
      "title": {"text": "Number of censoring", "fontSize": 6, "fontWeight": "normal", "frame": "group", "offset": 1},
      "width": 171, "height": 26,
      "data": {"name": "cenB"},
      "mark": {"type": "bar", "size": 1.6, "opacity": 0.6},
      "encoding": {
       "x": {"field": "t", "type": "quantitative", "scale": {"domain": [-0.4, 12.5], "nice": false, "zero": false}, "axis": {"values": [0,3,6,9,12], "tickCount": 20, "format": "d", "title": "Year", "labelOverlap": false}},
       "y": {"field": "n", "type": "quantitative", "stack": null, "scale": {"domain": [0, 2.1], "nice": false}, "axis": {"values": [0,1,2], "tickCount": 20, "format": "d", "title": "n.censor", "titlePadding": 12, "labelOverlap": false}},
       "color": {"field": "group", "type": "nominal", "scale": {"domain": ["high risk","low risk"], "range": ["#1f60b0","#e7b800"]}, "legend": null}
      }
     }
    ]
   }
  ]
 },
 {
  "spacing": 24,
  "resolve": {"scale": {"x": "independent", "y": "independent", "color": "independent"}, "legend": {"color": "independent"}},
  "hconcat": [
   {
    "title": {"text": "C", "frame": "bounds", "offset": 4},
    "width": 179, "height": 161,
    "view": {"stroke": "#333", "strokeWidth": 0.8},
    "layer": [
     {"data": {"name": "diag"}, "mark": {"type": "line", "color": "black", "strokeWidth": 0.7},
      "encoding": {"x": {"field": "fpr", "type": "quantitative"}, "y": {"field": "tpr", "type": "quantitative"}}},
     {"data": {"name": "rocC"}, "mark": {"type": "line", "strokeWidth": 1.3},
      "encoding": {
       "x": {"field": "fpr", "type": "quantitative", "scale": {"domain": [-0.04, 1.04], "nice": false, "zero": false}, "axis": {"values": [0,0.2,0.4,0.6,0.8,1], "tickCount": 20, "format": ".1f", "title": "1\u2212Specificity (FPR)", "domain": false, "tickSize": 2, "labelFontSize": 5.5, "titleFontSize": 6, "labelPadding": 2, "titlePadding": 3, "labelOverlap": false}},
       "y": {"field": "tpr", "type": "quantitative", "scale": {"domain": [-0.04, 1.04], "nice": false, "zero": false}, "axis": {"values": [0,0.2,0.4,0.6,0.8,1], "tickCount": 20, "format": ".1f", "title": "Sensitivity (TPR)", "domain": false, "tickSize": 2, "labelFontSize": 5.5, "titleFontSize": 6, "labelAngle": 270, "labelPadding": 0.5, "titlePadding": 12, "labelOverlap": false}},
       "color": {"field": "curve", "type": "nominal", "scale": {"domain": ["12 month AUC=0.771","36 month AUC=0.735","60 month AUC=0.718"], "range": ["#8c7a26","#1f66c1","#f2b500"]}, "legend": {"orient": "bottom-right", "title": null, "symbolType": "square", "labelFontSize": 6, "symbolSize": 6, "symbolStrokeWidth": 2.6, "rowPadding": 0, "offset": 3, "labelOffset": 1}}
      }}
    ]
   },
   {
    "title": {"text": "D", "frame": "bounds", "offset": 4},
    "width": 178, "height": 161,
    "view": {"stroke": "#333", "strokeWidth": 0.8},
    "layer": [
     {"data": {"name": "diag"}, "mark": {"type": "line", "color": "black", "strokeWidth": 0.7},
      "encoding": {"x": {"field": "fpr", "type": "quantitative"}, "y": {"field": "tpr", "type": "quantitative"}}},
     {"data": {"name": "rocD"}, "mark": {"type": "line", "strokeWidth": 1.3},
      "encoding": {
       "x": {"field": "fpr", "type": "quantitative", "scale": {"domain": [-0.04, 1.04], "nice": false, "zero": false}, "axis": {"values": [0,0.2,0.4,0.6,0.8,1], "tickCount": 20, "format": ".1f", "title": "1\u2212Specificity (FPR)", "domain": false, "tickSize": 2, "labelFontSize": 5.5, "titleFontSize": 6, "labelPadding": 2, "titlePadding": 3, "labelOverlap": false}},
       "y": {"field": "tpr", "type": "quantitative", "scale": {"domain": [-0.04, 1.04], "nice": false, "zero": false}, "axis": {"values": [0,0.2,0.4,0.6,0.8,1], "tickCount": 20, "format": ".1f", "title": "Sensitivity (TPR)", "domain": false, "tickSize": 2, "labelFontSize": 5.5, "titleFontSize": 6, "labelAngle": 270, "labelPadding": 0.5, "titlePadding": 12, "labelOverlap": false}},
       "color": {"field": "curve", "type": "nominal", "scale": {"domain": ["12 month AUC=0.677","36 month AUC=0.694","60 month AUC=0.676"], "range": ["#8c7a26","#1f66c1","#f2b500"]}, "legend": {"orient": "bottom-right", "title": null, "symbolType": "square", "labelFontSize": 6, "symbolSize": 6, "symbolStrokeWidth": 2.6, "rowPadding": 0, "offset": 3, "labelOffset": 1}}
      }}
    ]
   }
  ]
 },
 {
  "spacing": 21,
  "resolve": {"scale": {"x": "independent", "y": "independent", "color": "independent"}, "legend": {"color": "independent"}},
  "hconcat": [
   {
    "title": {"text": "E", "frame": "group", "offset": 2, "dx": -24},
    "bounds": "flush",
    "spacing": 0,
    "resolve": {"scale": {"x": "independent"}},
    "hconcat": [
     {"width": 2, "height": 111, "data": {"name": "forE"}, "mark": {"type": "text", "align": "left", "fontSize": 4.5},
      "encoding": {"y": {"field": "var", "type": "nominal", "sort": ["age","gender","stage","T","M","N","Molecular Subtype","riskScore"], "scale": {"type": "point", "padding": 0.3}, "axis": null}, "text": {"field": "var"}}},
     {"width": 21, "height": 111, "data": {"values": [{}]}, "mark": {"type": "text", "opacity": 0}, "encoding": {"text": {"value": ""}}},
     {"width": 18, "height": 111, "title": {"text": "pvalue", "fontSize": 6, "fontWeight": "bold", "anchor": "middle", "offset": 6}, "data": {"name": "forE"}, "mark": {"type": "text", "fontSize": 6.2},
      "encoding": {"y": {"field": "var", "type": "nominal", "sort": ["age","gender","stage","T","M","N","Molecular Subtype","riskScore"], "scale": {"type": "point", "padding": 0.3}, "axis": null}, "text": {"field": "p"}}},
     {"width": 5, "height": 111, "data": {"values": [{}]}, "mark": {"type": "text", "opacity": 0}, "encoding": {"text": {"value": ""}}},
     {"width": 41, "height": 111, "title": {"text": "Hazard ratio", "fontSize": 5, "fontWeight": "bold", "anchor": "middle", "offset": 6}, "data": {"name": "forE"}, "mark": {"type": "text", "fontSize": 4.8},
      "encoding": {"y": {"field": "var", "type": "nominal", "sort": ["age","gender","stage","T","M","N","Molecular Subtype","riskScore"], "scale": {"type": "point", "padding": 0.3}, "axis": null}, "text": {"field": "label"}}},
     {"width": 80, "height": 111, "data": {"name": "forE"},
      "encoding": {"y": {"field": "var", "type": "nominal", "sort": ["age","gender","stage","T","M","N","Molecular Subtype","riskScore"], "scale": {"type": "point", "padding": 0.3}, "axis": null}},
      "layer": [
       {"mark": {"type": "rule", "strokeDash": [4,3], "strokeWidth": 1.2, "color": "black"}, "encoding": {"x": {"datum": 1, "type": "quantitative"}, "y": null}},
       {"mark": {"type": "rule", "color": "#1b2a6b", "strokeWidth": 1}, "encoding": {"x": {"field": "lo", "type": "quantitative", "scale": {"domain": [0, 2], "nice": false}, "axis": {"values": [0,0.5,1,1.5,2], "tickCount": 20, "format": ".1f", "title": "Hazard ratio", "labelFontSize": 6.5, "titleFontSize": 6.5, "tickSize": 3, "labelPadding": 2, "titlePadding": 4, "labelOverlap": false}}, "x2": {"field": "hi"}}},
       {"mark": {"type": "tick", "color": "#1b2a6b", "size": 5, "thickness": 1}, "encoding": {"x": {"field": "lo", "type": "quantitative"}}},
       {"mark": {"type": "tick", "color": "#1b2a6b", "size": 5, "thickness": 1}, "encoding": {"x": {"field": "hi", "type": "quantitative"}}},
       {"mark": {"type": "square", "color": "#7cc242", "opacity": 1, "size": 22}, "encoding": {"x": {"field": "hr", "type": "quantitative"}}}
      ]}
    ]
   },
   {
    "title": {"text": "F", "frame": "group", "offset": 2, "dx": -9},
    "bounds": "flush",
    "spacing": 0,
    "resolve": {"scale": {"x": "independent"}},
    "hconcat": [
     {"width": 2, "height": 111, "data": {"name": "forF"}, "mark": {"type": "text", "align": "left", "fontSize": 4.9},
      "encoding": {"y": {"field": "var", "type": "nominal", "sort": ["age","gender","stage","T","M","N","Molecular Subtype","riskScore"], "scale": {"type": "point", "padding": 0.3}, "axis": null}, "text": {"field": "var"}}},
     {"width": 40, "height": 111, "data": {"values": [{}]}, "mark": {"type": "text", "opacity": 0}, "encoding": {"text": {"value": ""}}},
     {"width": 18, "height": 111, "title": {"text": "pvalue", "fontSize": 6.5, "fontWeight": "bold", "anchor": "middle", "offset": 6}, "data": {"name": "forF"}, "mark": {"type": "text", "fontSize": 6.5},
      "encoding": {"y": {"field": "var", "type": "nominal", "sort": ["age","gender","stage","T","M","N","Molecular Subtype","riskScore"], "scale": {"type": "point", "padding": 0.3}, "axis": null}, "text": {"field": "p"}}},
     {"width": 7, "height": 111, "data": {"values": [{}]}, "mark": {"type": "text", "opacity": 0}, "encoding": {"text": {"value": ""}}},
     {"width": 46, "height": 111, "title": {"text": "Hazard ratio", "fontSize": 5, "fontWeight": "bold", "anchor": "middle", "offset": 6}, "data": {"name": "forF"}, "mark": {"type": "text", "fontSize": 5},
      "encoding": {"y": {"field": "var", "type": "nominal", "sort": ["age","gender","stage","T","M","N","Molecular Subtype","riskScore"], "scale": {"type": "point", "padding": 0.3}, "axis": null}, "text": {"field": "label"}}},
     {"width": 92, "height": 111, "data": {"name": "forF"},
      "encoding": {"y": {"field": "var", "type": "nominal", "sort": ["age","gender","stage","T","M","N","Molecular Subtype","riskScore"], "scale": {"type": "point", "padding": 0.3}, "axis": null}},
      "layer": [
       {"mark": {"type": "rule", "strokeDash": [4,3], "strokeWidth": 1.2, "color": "black"}, "encoding": {"x": {"datum": 1, "type": "quantitative"}, "y": null}},
       {"mark": {"type": "rule", "color": "#1b2a6b", "strokeWidth": 1}, "encoding": {"x": {"field": "lo", "type": "quantitative", "scale": {"domain": [0, 2], "nice": false}, "axis": {"values": [0,0.5,1,1.5,2], "tickCount": 20, "format": ".1f", "title": "Hazard ratio", "labelFontSize": 6.5, "titleFontSize": 6.5, "tickSize": 3, "labelPadding": 2, "titlePadding": 4, "labelOverlap": false}}, "x2": {"field": "hi"}}},
       {"mark": {"type": "tick", "color": "#1b2a6b", "size": 5, "thickness": 1}, "encoding": {"x": {"field": "lo", "type": "quantitative"}}},
       {"mark": {"type": "tick", "color": "#1b2a6b", "size": 5, "thickness": 1}, "encoding": {"x": {"field": "hi", "type": "quantitative"}}},
       {"mark": {"type": "square", "color": "#e8262b", "opacity": 1, "size": 22}, "encoding": {"x": {"field": "hr", "type": "quantitative"}}}
      ]}
    ]
   }
  ]
 }
]
}
